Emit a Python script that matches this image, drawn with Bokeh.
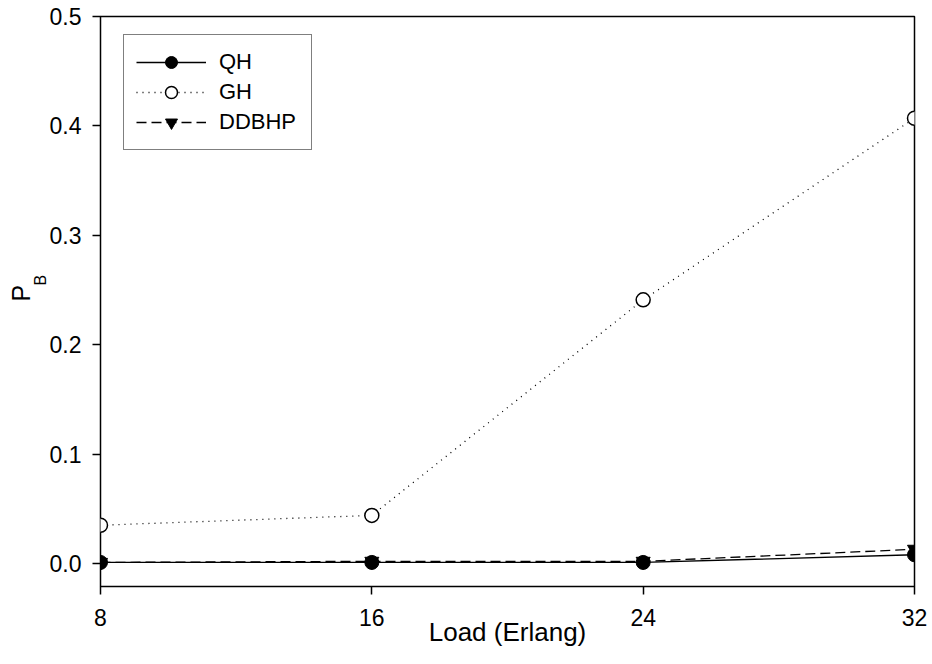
from bokeh.plotting import figure
from bokeh.models import (Range1d, FixedTicker, NumeralTickFormatter, Legend, LegendItem, Title)
from bokeh.embed import file_html
from bokeh.resources import INLINE

load = [8, 16, 24, 32]
qh = [0.001, 0.001, 0.001, 0.008]
gh = [0.035, 0.044, 0.241, 0.407]
ddbhp = [0.001, 0.002, 0.002, 0.013]
x_ticks = [8, 16, 24, 32]
y_ticks = [0.0, 0.1, 0.2, 0.3, 0.4, 0.5]

FONT = "Liberation Sans"

p = figure(frame_width=814, frame_height=570, width=932, height=664,
           output_backend="svg", toolbar_location=None,
           x_range=Range1d(8, 32), y_range=Range1d(-0.021, 0.5),
           min_border_left=100, min_border_right=18, min_border_top=16, min_border_bottom=78)
p.grid.visible = False
p.outline_line_color = "black"
p.outline_line_width = 1.5
p.background_fill_color = "white"
p.border_fill_color = "white"

for ax in (p.xaxis[0], p.yaxis[0]):
    ax.axis_line_color = None
    ax.major_tick_in = 0
    ax.major_tick_out = 8
    ax.major_tick_line_width = 1.5
    ax.minor_tick_line_color = None
    ax.major_label_text_font = FONT
    ax.major_label_text_font_size = "23px"
    ax.major_label_text_color = "black"

p.xaxis.ticker = FixedTicker(ticks=x_ticks)
p.yaxis.ticker = FixedTicker(ticks=y_ticks)
p.yaxis.formatter = NumeralTickFormatter(format="0.0")
p.xaxis.major_label_standoff = 14
p.yaxis.major_label_standoff = 11
p.xaxis.axis_label = "Load (Erlang)"
p.xaxis.axis_label_text_font = FONT
p.xaxis.axis_label_text_font_size = "26px"
p.xaxis.axis_label_text_font_style = "normal"
p.xaxis.axis_label_text_color = "black"
p.xaxis.axis_label_standoff = -12

l1 = p.line(load, qh, line_color="black", line_width=1.3)
s1 = p.scatter(load, qh, marker="circle", size=14, fill_color="black", line_color="black")
l2 = p.line(load, gh, line_color="black", line_width=1.3, line_dash="1 5")
s2 = p.scatter(load, gh, marker="circle", size=14, fill_color="white", line_color="black", line_width=1.5)
l3 = p.line(load, ddbhp, line_color="black", line_width=1.3, line_dash="10 5")
s3 = p.scatter(load, ddbhp, marker="inverted_triangle", size=14, fill_color="black", line_color="black")

legend = Legend(items=[LegendItem(label="QH", renderers=[l1, s1]),
                       LegendItem(label="GH", renderers=[l2, s2]),
                       LegendItem(label="DDBHP", renderers=[l3, s3])],
                location=(23, 436), padding=12, spacing=0, glyph_height=30, glyph_width=70,
                label_standoff=13, label_width=80, label_text_font=FONT, label_text_font_size="22px",
                label_text_color="black",
                border_line_color="black", border_line_width=1.2, background_fill_alpha=1.0,
                margin=0)
p.add_layout(legend)

t_b = Title(text="B", align="left", offset=301, standoff=-4, text_font=FONT,
            text_font_size="16px", text_font_style="normal", text_color="black")
t_p = Title(text="P", align="left", offset=285, standoff=-6, text_font=FONT,
            text_font_size="25px", text_font_style="normal", text_color="black")
p.add_layout(t_b, "left")
p.add_layout(t_p, "left")

open("out.html", "w").write(file_html(p, INLINE))
